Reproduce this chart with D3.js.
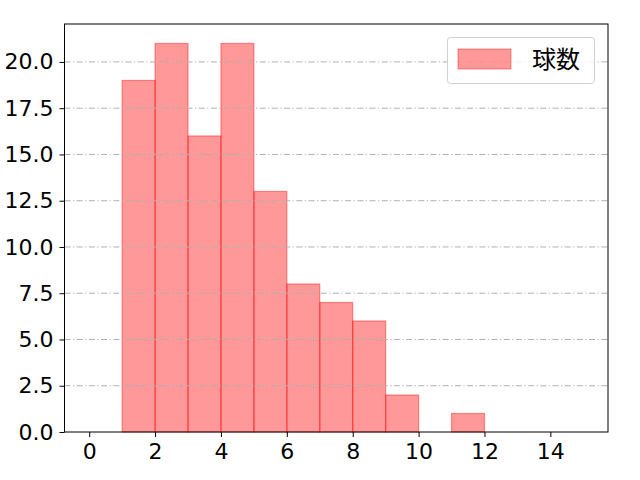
<!DOCTYPE html>
<html>
<head>
<meta charset="utf-8">
<script src="https://cdn.jsdelivr.net/npm/d3@7"></script>
<style>
  body { margin: 0; background: #fff; }
  svg { font-family: "Noto Sans CJK JP", sans-serif; }
</style>
</head>
<body>
<svg id="chart" width="640" height="480"></svg>
<script>
// histogram bins (left edge) and counts
const binStarts = [1, 2, 3, 4, 5, 6, 7, 8, 9, 10, 11]
const counts = [19, 21, 16, 21, 13, 8, 7, 6, 2, 0, 1]
const binWidth = 1
const xTicks = [0, 2, 4, 6, 8, 10, 12, 14]
const yTicks = [0, 2.5, 5, 7.5, 10, 12.5, 15, 17.5, 20]
const seriesName = "球数"

const plotLeft = 64.5, plotRight = 608, plotTop = 24, plotBottom = 432

const x = d3.scaleLinear([-0.75, 15.75], [plotLeft, plotRight])
const y = d3.scaleLinear([0, 22.05], [plotBottom, plotTop])

const svg = d3.select('#chart')

// bars
svg.append('g')
    .selectAll('rect')
    .data(binStarts.map((b, i) => ({b: b, c: counts[i]})).filter(d => d.c > 0))
    .join('rect')
    .attr('x', d => x(d.b))
    .attr('y', d => y(d.c))
    .attr('width', d => x(d.b + binWidth) - x(d.b))
    .attr('height', d => y(0) - y(d.c))
    .attr('fill', 'red')
    .attr('fill-opacity', 0.4)
    .attr('stroke', 'red')
    .attr('stroke-opacity', 0.4)
    .attr('stroke-width', 1.2)

// grid (drawn over bars)
svg.append('g')
    .selectAll('line')
    .data(yTicks.filter(t => t > 0))
    .join('line')
    .attr('x1', plotLeft)
    .attr('x2', plotRight)
    .attr('y1', d => y(d))
    .attr('y2', d => y(d))
    .attr('stroke', '#b0b0b0')
    .attr('stroke-width', 1)
    .attr('stroke-dasharray', '6,2.5,1.2,2.5')

// axes
const xAxis = d3.axisBottom(x).tickValues(xTicks).tickFormat(d3.format('d')).tickSize(5).tickPadding(6)
svg.append('g')
    .attr('transform', `translate(0, ${plotBottom})`)
    .call(xAxis)
    .call(g => g.select('.domain').remove())
    .call(g => g.selectAll('text').attr('font-size', '22px').attr('font-family', '"DejaVu Sans"').attr('fill', '#000'))

const yAxis = d3.axisLeft(y).tickValues(yTicks).tickFormat(d3.format('.1f')).tickSize(5).tickPadding(6)
svg.append('g')
    .attr('transform', `translate(${plotLeft}, 0)`)
    .call(yAxis)
    .call(g => g.select('.domain').remove())
    .call(g => g.selectAll('text').attr('font-size', '22px').attr('font-family', '"DejaVu Sans"').attr('fill', '#000'))

// frame
svg.append('rect')
    .attr('x', plotLeft)
    .attr('y', plotTop)
    .attr('width', plotRight - plotLeft)
    .attr('height', plotBottom - plotTop)
    .attr('fill', 'none')
    .attr('stroke', '#000')
    .attr('stroke-width', 1)

// legend
const legend = svg.append('g')
legend.append('rect')
    .attr('x', 447.5).attr('y', 37.5)
    .attr('width', 147).attr('height', 46)
    .attr('rx', 3)
    .attr('fill', '#fff').attr('fill-opacity', 0.8)
    .attr('stroke', '#d0d0d0')
legend.append('rect')
    .attr('x', 458).attr('y', 49)
    .attr('width', 53).attr('height', 20)
    .attr('fill', 'red').attr('fill-opacity', 0.4)
    .attr('stroke', 'red').attr('stroke-opacity', 0.4)
legend.append('text')
    .text(seriesName)
    .attr('x', 532).attr('y', 68)
    .attr('font-size', '24px')
    .attr('fill', '#000')
</script>
</body>
</html>
